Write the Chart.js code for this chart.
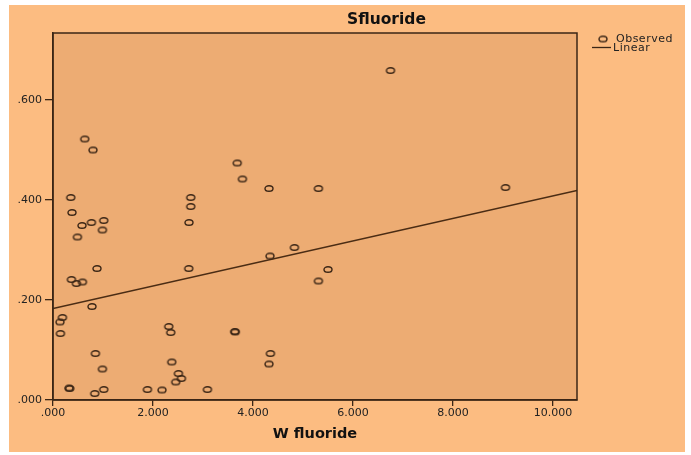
<!DOCTYPE html>
<html><head><meta charset="utf-8">
<script src="https://cdn.jsdelivr.net/npm/chart.js@4/dist/chart.umd.min.js"></script>
<style>html,body{margin:0;padding:0;background:#fff;}canvas{display:block}</style>
</head><body>
<canvas id="c" width="691" height="455"></canvas>
<script>
// ---- data ----
const chartTitle = 'Sfluoride';
const xAxisTitle = 'W fluoride';
const legendLabels = ['Observed', 'Linear'];
const wFluoride = [6.75, 9.05, 0.634, 0.80, 0.354, 0.38, 0.58, 0.768, 1.014, 0.988, 0.488, 0.88,
  0.368, 0.468, 0.588, 0.78, 0.188, 0.14, 0.148, 0.848, 0.988, 0.334, 0.32, 0.834, 1.014, 1.888,
  2.18, 3.088, 2.314, 2.354, 2.374, 2.508, 2.454, 2.568, 2.754, 2.754, 2.72, 2.714, 3.684, 3.788,
  3.634, 3.644, 4.32, 5.308, 4.828, 4.34, 5.5, 5.308, 4.348, 4.32];
const sFluoride = [0.659, 0.425, 0.522, 0.50, 0.405, 0.375, 0.349, 0.355, 0.359, 0.34, 0.326, 0.263,
  0.241, 0.233, 0.236, 0.187, 0.165, 0.156, 0.133, 0.093, 0.062, 0.023, 0.024, 0.013, 0.021, 0.021,
  0.02, 0.021, 0.147, 0.135, 0.076, 0.053, 0.036, 0.043, 0.405, 0.387, 0.355, 0.263, 0.474, 0.442,
  0.137, 0.136, 0.423, 0.423, 0.305, 0.288, 0.261, 0.238, 0.093, 0.072];
const linearFit = { intercept: 0.183, slope: 0.0225 };
const xRange = [0, 10.48];
const yRange = [0, 0.734];
const xTickStep = 2;
const yTickStep = 0.2;

// ---- styling ----
const INK = '#3b2616';
const OUTER = '#FCBC81';
const INNER = '#EDAC73';

function ellipseMarker(rx, ry, lw, color) {
  const c = document.createElement('canvas');
  const w = Math.ceil(2 * rx + lw + 2), h = Math.ceil(2 * ry + lw + 2);
  c.width = w; c.height = h;
  const g = c.getContext('2d');
  g.strokeStyle = color; g.lineWidth = lw;
  g.beginPath(); g.ellipse(w / 2, h / 2, rx, ry, 0, 0, Math.PI * 2); g.stroke();
  return c;
}
const marker = ellipseMarker(4.0, 2.8, 1.4, INK);

const points = wFluoride.map((x, i) => ({ x: x, y: sFluoride[i] }));
const fitLine = xRange.map(x => ({ x: x, y: linearFit.intercept + linearFit.slope * x }));

const fmt = v => { const s = Number(v).toFixed(3); return s.startsWith('0') ? s.slice(1) : s; };

const decor = {
  id: 'decor',
  beforeDraw(chart) {
    const ctx = chart.ctx, a = chart.chartArea;
    ctx.save();
    ctx.fillStyle = '#ffffff'; ctx.fillRect(0, 0, chart.width, chart.height);
    ctx.fillStyle = OUTER; ctx.fillRect(9, 5, 676, 447);
    ctx.fillStyle = INNER; ctx.fillRect(a.left, a.top, a.right - a.left, a.bottom - a.top);
    ctx.restore();
  },
  afterDraw(chart) {
    const ctx = chart.ctx, a = chart.chartArea;
    ctx.save();
    ctx.strokeStyle = INK; ctx.lineWidth = 1.5;
    ctx.strokeRect(a.left, a.top, a.right - a.left, a.bottom - a.top);
    // title
    ctx.fillStyle = '#111';
    ctx.font = 'bold 15.5px "DejaVu Sans"';
    ctx.textBaseline = 'middle'; ctx.textAlign = 'left';
    ctx.fillText(chartTitle, 347, 20);
    // legend
    ctx.drawImage(marker, 603 - marker.width / 2, 39 - marker.height / 2);
    ctx.beginPath(); ctx.moveTo(592, 47.5); ctx.lineTo(611, 47.5); ctx.lineWidth = 1.3; ctx.stroke();
    ctx.fillStyle = '#222';
    ctx.font = '11px "DejaVu Sans"';
    if ('letterSpacing' in ctx) ctx.letterSpacing = '0.5px';
    ctx.fillText(legendLabels[0], 616, 39);
    ctx.fillText(legendLabels[1], 613, 48);
    ctx.restore();
  }
};

Chart.defaults.font.family = '"DejaVu Sans"';
Chart.defaults.color = '#222';

new Chart(document.getElementById('c'), {
  type: 'scatter',
  data: {
    datasets: [
      { label: legendLabels[0], data: points, pointStyle: marker, pointRadius: 4, pointHoverRadius: 4, showLine: false },
      { label: legendLabels[1], data: fitLine, showLine: true, pointRadius: 0, borderColor: '#4a2c14', borderWidth: 1.5, fill: false }
    ]
  },
  options: {
    responsive: false, animation: false,
    layout: { padding: { left: 0, right: 114, top: 33, bottom: 0 } },
    plugins: { legend: { display: false }, tooltip: { enabled: false }, title: { display: false } },
    scales: {
      x: {
        type: 'linear', min: xRange[0], max: xRange[1],
        afterFit(s) { s.height = 55; },
        ticks: { stepSize: xTickStep, includeBounds: false, padding: 1, callback: fmt, font: { size: 11 }, color: '#222', maxRotation: 0 },
        grid: { drawOnChartArea: false, drawTicks: true, tickLength: 6, color: INK, lineWidth: 1.3 },
        border: { display: true, color: INK, width: 1.5 },
        title: { display: true, text: xAxisTitle, color: '#111', font: { size: 14.5, weight: 'bold' }, padding: { top: 0, bottom: 12 } }
      },
      y: {
        type: 'linear', min: yRange[0], max: yRange[1],
        afterFit(s) { s.width = 53; },
        ticks: { stepSize: yTickStep, includeBounds: false, padding: 3, callback: fmt, font: { size: 11 }, color: '#222' },
        grid: { drawOnChartArea: false, drawTicks: true, tickLength: 8, color: INK, lineWidth: 1.3 },
        border: { display: true, color: INK, width: 1.5 }
      }
    }
  },
  plugins: [decor]
});
</script>
</body></html>
